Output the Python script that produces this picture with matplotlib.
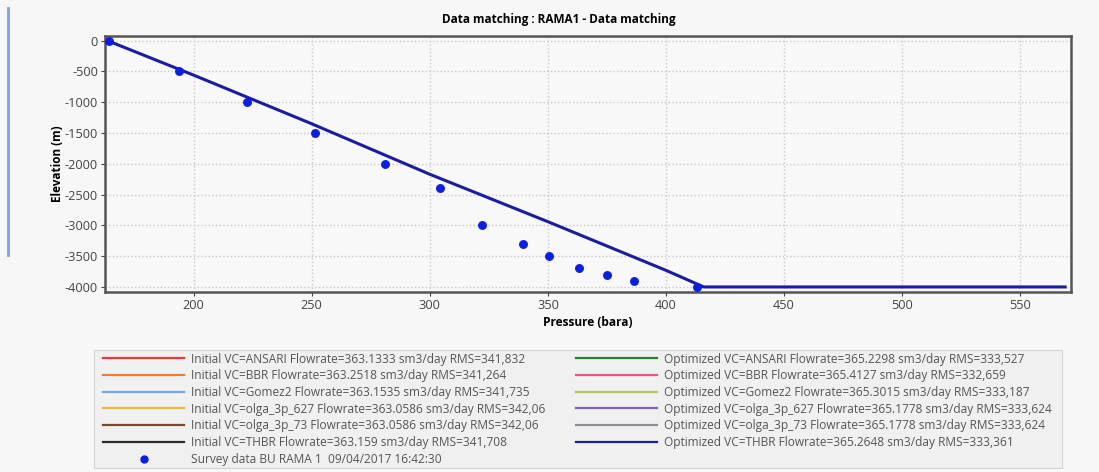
import matplotlib.pyplot as plt
from matplotlib.lines import Line2D
from matplotlib.patches import Rectangle

plt.rcParams['font.family'] = ['Open Sans', 'DejaVu Sans']
plt.rcParams['axes.unicode_minus'] = False

# survey points (pressure in bara, elevation in m)
survey_p = [164, 194, 222.5, 251.5, 281, 304.5, 322, 339.5, 350.5, 363, 375, 386.5, 413]
survey_z = [0, -500, -1000, -1500, -2000, -2400, -3000, -3300, -3500, -3700, -3800, -3900, -4000]

# optimized THBR traverse
thbr_p = [163.5, 200, 250, 300, 350, 400, 416, 569]
thbr_z = [0, -560, -1350, -2170, -2940, -3730, -4000, -4000]

initial_labels = [
    'Initial VC=ANSARI Flowrate=363.1333 sm3/day RMS=341,832',
    'Initial VC=BBR Flowrate=363.2518 sm3/day RMS=341,264',
    'Initial VC=Gomez2 Flowrate=363.1535 sm3/day RMS=341,735',
    'Initial VC=olga_3p_627 Flowrate=363.0586 sm3/day RMS=342,06',
    'Initial VC=olga_3p_73 Flowrate=363.0586 sm3/day RMS=342,06',
    'Initial VC=THBR Flowrate=363.159 sm3/day RMS=341,708',
]
initial_colors = ['#e53935', '#f47c30', '#74a6e0', '#e9b840', '#7a4a2e', '#2b2b2b']

optimized_labels = [
    'Optimized VC=ANSARI Flowrate=365.2298 sm3/day RMS=333,527',
    'Optimized VC=BBR Flowrate=365.4127 sm3/day RMS=332,659',
    'Optimized VC=Gomez2 Flowrate=365.3015 sm3/day RMS=333,187',
    'Optimized VC=olga_3p_627 Flowrate=365.1778 sm3/day RMS=333,624',
    'Optimized VC=olga_3p_73 Flowrate=365.1778 sm3/day RMS=333,624',
    'Optimized VC=THBR Flowrate=365.2648 sm3/day RMS=333,361',
]
optimized_colors = ['#2e7d32', '#e8538a', '#b7c25a', '#7e62b8', '#8f8f96', '#1c1ca0']

survey_label = 'Survey data BU RAMA 1  09/04/2017 16:42:30'

W, H = 1099, 472
fig = plt.figure(figsize=(W / 100, H / 100), dpi=100, facecolor='#f7f7f7')
ax = fig.add_axes([105 / W, 1 - 292 / H, (1071 - 105) / W, (292 - 36) / H])
ax.set_facecolor('#f8f8f8')

ax.plot(thbr_p, thbr_z, color=optimized_colors[-1], lw=2.2, zorder=3)
ax.plot(survey_p, survey_z, 'o', color='#0a1ee8', ms=5.4, zorder=4)

ax.set_xlim(162.5, 571.5)
ax.set_ylim(-4082, 75)
ax.set_xticks([200, 250, 300, 350, 400, 450, 500, 550])
ax.set_yticks(range(-4000, 1, 500))
ax.grid(True, color='#c8c8c8', ls=':', lw=1)
ax.tick_params(labelsize=9.2, colors='#444444', length=3, width=0.8, pad=2)
for s in ax.spines.values():
    s.set_color('#555555')
    s.set_linewidth(1.8)

ax.set_xlabel('Pressure (bara)', fontsize=8.6, fontweight='bold', labelpad=3)
ax.set_ylabel('Elevation (m)', fontsize=8.5, fontweight='bold')
ax.yaxis.set_label_coords(-0.042, 0.5)
fig.text(559 / W, 1 - 20 / H, 'Data matching : RAMA1 - Data matching',
         ha='center', va='center', fontsize=8.5, fontweight='bold')

# thin blue bar on the left edge of the panel
fig.add_artist(Line2D([8 / W, 8 / W], [1 - 8 / H, 1 - 255 / H], color='#7ea0e6', lw=2))

# legend panel background
fig.add_artist(Rectangle((94 / W, 1 - 468 / H), (1062 - 94) / W, (468 - 350) / H,
                         transform=fig.transFigure, facecolor='#f0f0f0',
                         edgecolor='#d4d4d4', lw=0.8, zorder=0))

handles = [Line2D([], [], color=c, lw=1.6) for c in initial_colors]
handles.append(Line2D([], [], ls='', marker='o', color='#0a1ee8', ms=5))
handles += [Line2D([], [], color=c, lw=1.6) for c in optimized_colors]
labels = initial_labels + [survey_label] + optimized_labels

leg = fig.legend(handles, labels, ncol=2, loc='upper left',
                 bbox_to_anchor=(103 / W, 1 - 352.5 / H),
                 borderaxespad=0, fontsize=8.6, handlelength=6.8,
                 handletextpad=0.55, labelspacing=0.31, columnspacing=2.6,
                 frameon=False, borderpad=0)
for t in leg.get_texts():
    t.set_color('#555555')

fig.savefig('out.png', dpi=100, facecolor=fig.get_facecolor())
